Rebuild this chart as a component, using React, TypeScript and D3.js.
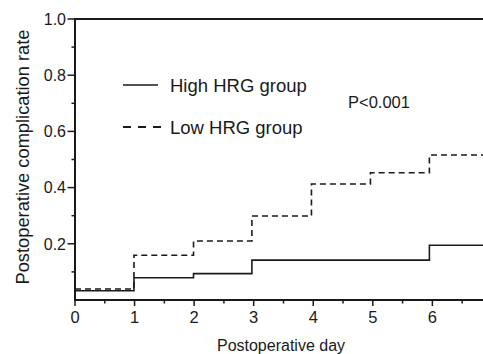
import React from "react";
import * as d3 from "d3";

const stepDays = [0, 0.99, 1.99, 2.97, 3.97, 4.96, 5.95];
const highHRG = [0.033, 0.079, 0.094, 0.142, 0.142, 0.142, 0.195];
const lowHRG = [0.039, 0.159, 0.21, 0.299, 0.413, 0.453, 0.516];
const xTickValues = [0, 1, 2, 3, 4, 5, 6];
const xMinorTicks = [0.5, 1.5, 2.5, 3.5, 4.5, 5.5, 6.5];
const yTickValues = [0.2, 0.4, 0.6, 0.8, 1.0];
const yMinorTicks = [0.1, 0.3, 0.5, 0.7, 0.9];
const legendLabels = ["High HRG group", "Low HRG group"];
const pText = "P<0.001";
const xTitle = "Postoperative day";
const yTitle = "Postoperative complication rate";
const xMax = 6.85;

const W = 483;
const H = 354;
const FONT = "'Liberation Sans', Arial, Helvetica, sans-serif";

export default function App() {
  const x = d3.scaleLinear().domain([0, xMax]).range([75, 483]);
  const y = d3.scaleLinear().domain([0, 1]).range([300, 19]);

  const line = d3
    .line<[number, number]>()
    .x((d) => x(d[0]))
    .y((d) => y(d[1]))
    .curve(d3.curveStepAfter);

  const mk = (vals: number[]): [number, number][] => {
    const pts: [number, number][] = stepDays.map((t, i) => [t, vals[i]]);
    pts.push([xMax, vals[vals.length - 1]]);
    return pts;
  };

  const ink = "#1a1a1a";

  return (
    <svg
      width={W}
      height={H}
      style={{ position: "absolute", left: 0, top: 0, display: "block", background: "#fff" }}
      fontFamily={FONT}
    >
      <rect x={0} y={0} width={W} height={H} fill="#fff" />
      {/* curves */}
      <path d={line(mk(highHRG)) || ""} fill="none" stroke={ink} strokeWidth={1.6} />
      <path
        d={line(mk(lowHRG)) || ""}
        fill="none"
        stroke={ink}
        strokeWidth={1.6}
        strokeDasharray="6,4"
      />
      {/* top frame line */}
      <line x1={x(0)} x2={x(xMax)} y1={y(1)} y2={y(1)} stroke={ink} strokeWidth={2} />
      {/* axes */}
      <line x1={x(0) - 1} x2={x(xMax)} y1={y(0)} y2={y(0)} stroke={ink} strokeWidth={2} />
      <line x1={x(0)} x2={x(0)} y1={y(0) + 1} y2={y(1) - 1} stroke={ink} strokeWidth={2} />
      {/* x ticks */}
      {xTickValues.map((t) => (
        <g key={"xt" + t}>
          <line x1={x(t)} x2={x(t)} y1={y(0)} y2={y(0) + 6} stroke={ink} strokeWidth={1.5} />
          <text x={x(t)} y={322.5} textAnchor="middle" fontSize={16.5} fill={ink}>
            {t}
          </text>
        </g>
      ))}
      {xMinorTicks.map((t) => (
        <line key={"xm" + t} x1={x(t)} x2={x(t)} y1={y(0)} y2={y(0) + 3.5} stroke={ink} strokeWidth={1.5} />
      ))}
      {/* y ticks */}
      {yTickValues.map((t) => (
        <g key={"yt" + t}>
          <line x1={x(0) - 7.5} x2={x(0)} y1={y(t)} y2={y(t)} stroke={ink} strokeWidth={1.5} />
          <text x={66} y={y(t) + 5.8} textAnchor="end" fontSize={16} fill={ink}>
            {t.toFixed(1)}
          </text>
        </g>
      ))}
      {yMinorTicks.map((t) => (
        <line key={"ym" + t} x1={x(0) - 3.5} x2={x(0)} y1={y(t)} y2={y(t)} stroke={ink} strokeWidth={1.5} />
      ))}
      {/* titles */}
      <text x={281} y={351} textAnchor="middle" fontSize={16} fill={ink}>
        {xTitle}
      </text>
      <text
        transform={`translate(29,157) rotate(-90)`}
        textAnchor="middle"
        fontSize={18.3}
        fill={ink}
      >
        {yTitle}
      </text>
      {/* legend */}
      <line x1={123} x2={158} y1={85} y2={85} stroke={ink} strokeWidth={1.6} />
      <text x={170} y={92} fontSize={18.5} fill={ink}>
        {legendLabels[0]}
      </text>
      <line x1={123} x2={161} y1={127} y2={127} stroke={ink} strokeWidth={1.8} strokeDasharray="8,7" />
      <text x={170} y={134} fontSize={18.5} fill={ink}>
        {legendLabels[1]}
      </text>
      <text x={348} y={108} fontSize={16.5} fill={ink}>
        {pText}
      </text>
    </svg>
  );
}
